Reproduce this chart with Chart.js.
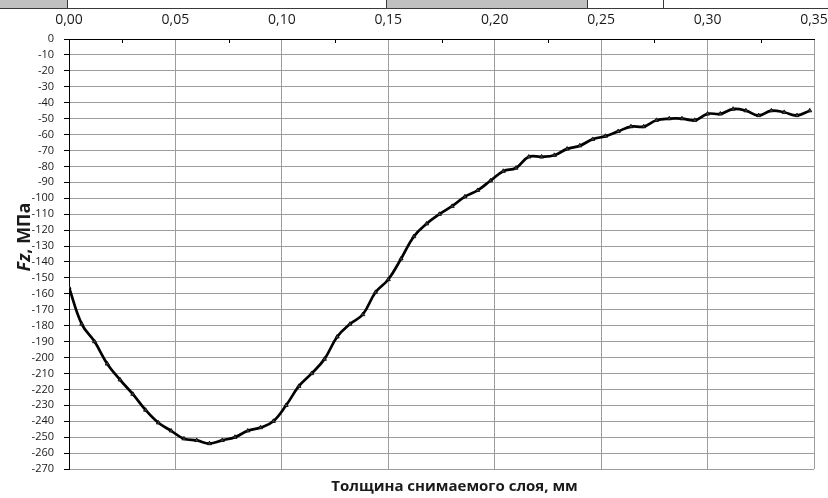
<!DOCTYPE html>
<html>
<head>
<meta charset="utf-8">
<script src="https://cdn.jsdelivr.net/npm/chart.js@4/dist/chart.umd.min.js"></script>
<style>
  html, body { margin: 0; padding: 0; background: #fff; }
  #wrap { width: 828px; height: 498px; position: relative; }
  canvas { display: block; }
</style>
</head>
<body>
<div id="wrap"><canvas id="c" width="828" height="498" style="width:828px;height:498px"></canvas></div>
<script>
// ---- data ----
const thickness = [
  0.000, 0.006, 0.012, 0.018, 0.024, 0.030, 0.036, 0.042, 0.048, 0.054,
  0.060, 0.066, 0.072, 0.078, 0.084, 0.090, 0.096, 0.102, 0.108, 0.114,
  0.120, 0.126, 0.132, 0.138, 0.144, 0.150, 0.156, 0.162, 0.168, 0.174,
  0.180, 0.186, 0.192, 0.198, 0.204, 0.210, 0.216, 0.222, 0.228, 0.234,
  0.240, 0.246, 0.252, 0.258, 0.264, 0.270, 0.276, 0.282, 0.288, 0.294,
  0.300, 0.306, 0.312, 0.318, 0.324, 0.330, 0.336, 0.342, 0.348
];
const stressFz = [
  -156, -179, -190, -204, -214, -223, -233, -241, -246, -251,
  -252, -254, -252, -250, -246, -244, -240, -230, -218, -210,
  -201, -187, -179, -173, -159, -151, -138, -124, -116, -110,
  -105, -99, -95, -89, -83, -81, -74, -74, -73, -69,
  -67, -63, -61, -58, -55, -55, -51, -50, -50, -51,
  -47, -47, -44, -45, -48, -45, -46, -48, -45
];
const xTickLabels = ['0,00', '0,05', '0,10', '0,15', '0,20', '0,25', '0,30', '0,35'];
const xMinorTicks = [0.025, 0.075, 0.125, 0.175, 0.225, 0.275, 0.325];
const yTickLabels = ['0', '-10', '-20', '-30', '-40', '-50', '-60', '-70', '-80', '-90',
  '-100', '-110', '-120', '-130', '-140', '-150', '-160', '-170', '-180', '-190',
  '-200', '-210', '-220', '-230', '-240', '-250', '-260', '-270'];
const xTitle = 'Толщина снимаемого слоя, мм';
const yTitleItalic = 'Fz';
const yTitleRest = ', МПа';

const FONT = '"Open Sans", "Liberation Sans", sans-serif';
const TXT = '#1a1a1a';

// ---- plugins ----
const sheetStrip = {
  id: 'sheetStrip',
  beforeDraw(chart) {
    const c = chart.ctx;
    c.save();
    c.fillStyle = '#fff';
    c.fillRect(0, 0, chart.width, chart.height);
    c.fillStyle = '#c0c0c0';
    c.fillRect(0, 0, 67, 8);
    c.fillRect(387, 0, 200, 8);
    c.strokeStyle = '#3a3a3a';
    c.lineWidth = 1;
    c.beginPath();
    [67.5, 386.5, 587.5, 663.5].forEach(x => { c.moveTo(x, 0); c.lineTo(x, 8); });
    c.moveTo(0, 8.5); c.lineTo(chart.width, 8.5);
    c.stroke();
    c.restore();
  }
};

const minorTicks = {
  id: 'minorTicks',
  afterDraw(chart) {
    const c = chart.ctx, xs = chart.scales.x, top = chart.chartArea.top;
    c.save();
    c.strokeStyle = '#000';
    c.lineWidth = 1;
    c.beginPath();
    xMinorTicks.forEach(v => {
      const px = Math.round(xs.getPixelForValue(v)) + 0.5;
      c.moveTo(px, top); c.lineTo(px, top + 4);
    });
    c.stroke();
    c.restore();
  }
};

const axisTitles = {
  id: 'axisTitles',
  afterDraw(chart) {
    const c = chart.ctx, a = chart.chartArea;
    c.save();
    c.fillStyle = TXT;
    c.textBaseline = 'middle';
    // x title
    c.font = 'bold 15px ' + FONT;
    c.textAlign = 'center';
    c.fillText(xTitle, (a.left + a.right) / 2 + 13, a.bottom + 18);
    // y title (rotated)
    c.translate(25, (a.top + a.bottom) / 2 - 17);
    c.rotate(-Math.PI / 2);
    c.textAlign = 'left';
    c.font = 'italic bold 18px ' + FONT;
    const w1 = c.measureText(yTitleItalic).width;
    c.font = 'bold 18px ' + FONT;
    const w2 = c.measureText(yTitleRest).width;
    const x0 = -(w1 + w2) / 2;
    c.font = 'italic bold 18px ' + FONT;
    c.fillText(yTitleItalic, x0, 0);
    c.font = 'bold 18px ' + FONT;
    c.fillText(yTitleRest, x0 + w1, 0);
    c.restore();
  }
};

new Chart(document.getElementById('c'), {
  type: 'line',
  data: {
    datasets: [{
      data: thickness.map((x, i) => ({ x: x, y: stressFz[i] })),
      borderColor: '#000',
      borderWidth: 2.7,
      tension: 0.4,
      pointStyle: 'triangle',
      pointRadius: 2.4,
      pointBackgroundColor: '#444',
      pointBorderColor: '#000',
      pointBorderWidth: 0.8,
      fill: false
    }]
  },
  options: {
    responsive: false,
    animation: false,
    devicePixelRatio: 1,
    layout: { padding: { top: 0, right: 0, bottom: 29, left: 0 } },
    plugins: { legend: { display: false }, tooltip: { enabled: false }, title: { display: false } },
    scales: {
      x: {
        type: 'linear',
        position: 'top',
        min: 0,
        max: 0.35,
        afterFit(s) { s.height = 39; s.paddingLeft = 0; s.paddingRight = 14; },
        ticks: {
          stepSize: 0.05,
          autoSkip: false,
          maxRotation: 0,
          padding: 11,
          color: TXT,
          font: { family: FONT, size: 14 },
          callback: (v) => xTickLabels[Math.round(v / 0.05)]
        },
        grid: { color: '#9c9c9c', lineWidth: 1, drawTicks: false },
        border: { display: true, color: '#000', width: 1 }
      },
      y: {
        type: 'linear',
        min: -270,
        max: 0,
        afterFit(s) { s.width = 69; },
        ticks: {
          stepSize: 10,
          autoSkip: false,
          padding: 10,
          color: TXT,
          font: { family: FONT, size: 11 },
          callback: (v) => yTickLabels[Math.round(-v / 10)]
        },
        grid: { color: '#9c9c9c', lineWidth: 1, drawTicks: true, tickLength: 5, tickColor: '#000' },
        border: { display: true, color: '#000', width: 1 }
      }
    }
  },
  plugins: [sheetStrip, minorTicks, axisTitles]
});
</script>
</body>
</html>
